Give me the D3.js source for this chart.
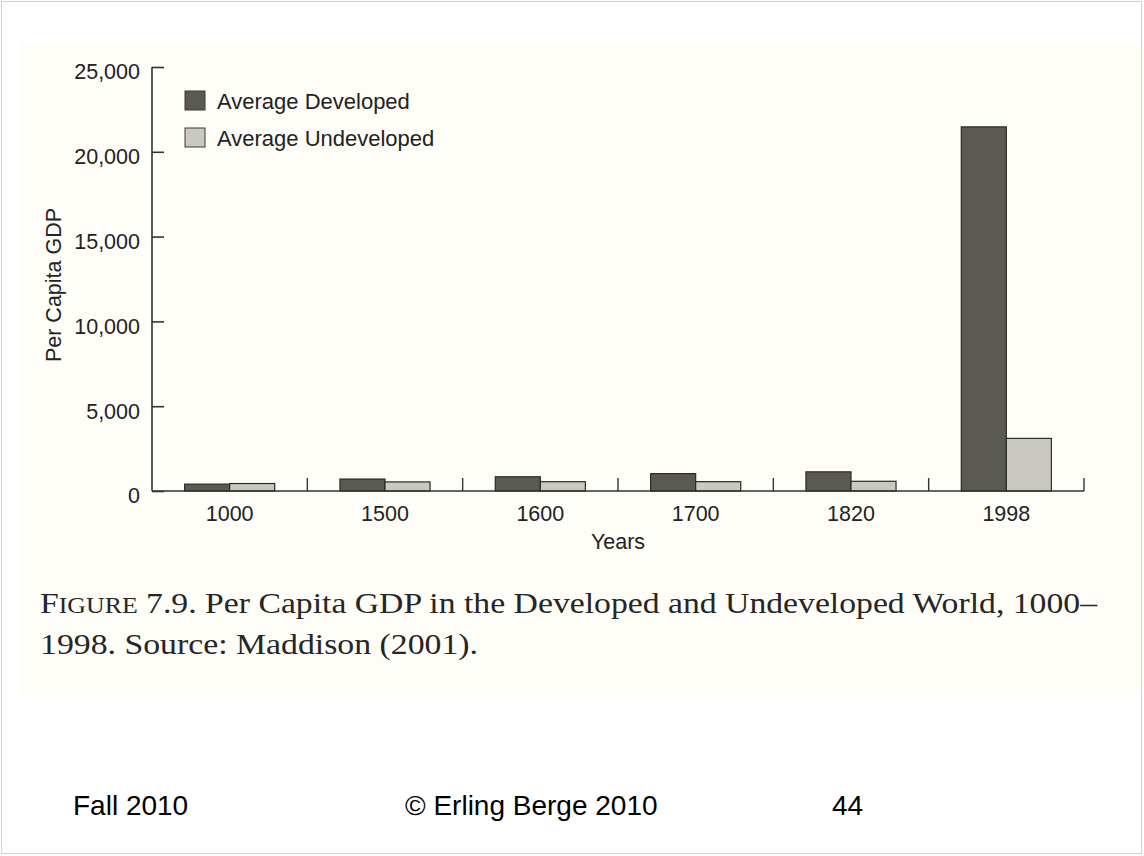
<!DOCTYPE html>
<html>
<head>
<meta charset="utf-8">
<script src="https://cdn.jsdelivr.net/npm/d3@7"></script>
<style>
  html, body { margin: 0; padding: 0; background: #ffffff; }
  svg { display: block; }
</style>
</head>
<body>
<svg id="chart" width="1144" height="856"></svg>
<script>
// ---- data ----
const years = ["1000", "1500", "1600", "1700", "1820", "1998"];
const developed = [405, 704, 839, 1024, 1130, 21470];
const undeveloped = [440, 535, 548, 551, 573, 3102];
const seriesNames = ["Average Developed", "Average Undeveloped"];
const yTicks = [0, 5000, 10000, 15000, 20000, 25000];
const captionLines = ["7.9. Per Capita GDP in the Developed and Undeveloped World, 1000–", "1998. Source: Maddison (2001)."];
const footer = ["Fall 2010", "© Erling Berge 2010", "44"];

const svg = d3.select("#chart");
const sans = "'Liberation Sans', Arial, Helvetica, sans-serif";
const serif = "'Liberation Serif', 'Times New Roman', serif";
const colors = ["#5b5a52", "#cac9c1"];
const axisColor = "#333333";

// slide frame
svg.append("rect").attr("x", 1.5).attr("y", 1.5).attr("width", 1140).attr("height", 852)
  .attr("fill", "#ffffff").attr("stroke", "#d0d0d0").attr("stroke-width", 1);
// scanned page background
svg.append("rect").attr("x", 20).attr("y", 43).attr("width", 1121).attr("height", 652)
  .attr("fill", "#fffdf8");

// scales
const x = d3.scaleBand().domain(years).range([152, 1084]).paddingInner(0).paddingOuter(0);
const xs = d3.scaleBand().domain(seriesNames)
  .range([x.bandwidth() * 0.21, x.bandwidth() * 0.79]).padding(0);
const y = d3.scaleLinear().domain([0, 25000]).range([491, 67]);

const rows = years.map((yr, i) => ({ year: yr, values: [developed[i], undeveloped[i]] }));

// bars
const g = svg.append("g");
g.selectAll("g.grp").data(rows).join("g").attr("class", "grp")
  .attr("transform", d => `translate(${x(d.year)},0)`)
  .selectAll("rect").data(d => d.values.map((v, k) => ({ v, k })))
  .join("rect")
  .attr("x", d => xs(seriesNames[d.k]))
  .attr("width", xs.bandwidth())
  .attr("y", d => y(d.v))
  .attr("height", d => y(0) - y(d.v))
  .attr("fill", d => colors[d.k])
  .attr("stroke", "#2a2a26").attr("stroke-width", 1.2);

// y axis
const yAxis = svg.append("g").attr("transform", `translate(${x.range()[0]},0)`)
  .call(d3.axisLeft(y).tickValues(yTicks).tickSize(-12).tickPadding(12)
    .tickFormat(d3.format(",")));
yAxis.select(".domain").attr("d", `M0,${y(0)}V${y(25000)}`).attr("stroke", axisColor).attr("stroke-width", 1.6);
yAxis.selectAll(".tick line").attr("stroke", axisColor).attr("stroke-width", 1.6);
yAxis.selectAll(".tick text").attr("font-family", sans).attr("font-size", 21.5)
  .attr("fill", "#222").attr("dy", "0.55em");

// x axis: labels at band centres
const xAxis = svg.append("g").attr("transform", `translate(0,${y(0)})`)
  .call(d3.axisBottom(x).tickSize(0).tickPadding(14.5));
xAxis.select(".domain").remove();
xAxis.selectAll(".tick text").attr("font-family", sans).attr("font-size", 21.5).attr("fill", "#222");
// baseline
svg.append("line").attr("x1", x.range()[0]).attr("x2", x.range()[1])
  .attr("y1", y(0)).attr("y2", y(0)).attr("stroke", axisColor).attr("stroke-width", 1.6);
// separator ticks at band boundaries
svg.append("g").selectAll("line").data(years.slice(1).concat(["end"]))
  .join("line")
  .attr("x1", d => d === "end" ? x.range()[1] : x(d))
  .attr("x2", d => d === "end" ? x.range()[1] : x(d))
  .attr("y1", y(0)).attr("y2", y(0) - 13)
  .attr("stroke", axisColor).attr("stroke-width", 1.4);

// axis titles
svg.append("text").attr("x", (x.range()[0] + x.range()[1]) / 2).attr("y", 549)
  .attr("text-anchor", "middle").attr("font-family", sans).attr("font-size", 21.5)
  .attr("fill", "#222").text("Years");
svg.append("text").attr("transform", `translate(61,${(y(0) + y(25000)) / 2 + 6}) rotate(-90)`)
  .attr("text-anchor", "middle").attr("font-family", sans).attr("font-size", 21.5)
  .attr("fill", "#222").text("Per Capita GDP");

// legend
const leg = svg.append("g");
seriesNames.forEach((name, i) => {
  const ly = 91 + i * 37;
  leg.append("rect").attr("x", 185).attr("y", ly).attr("width", 20).attr("height", 19)
    .attr("fill", colors[i]).attr("stroke", "#3a3a36").attr("stroke-width", 1);
  leg.append("text").attr("x", 217).attr("y", ly + 18).attr("font-family", sans)
    .attr("font-size", 22).attr("fill", "#222").text(name);
});

// caption (serif, small caps "FIGURE")
const cap1 = svg.append("text").attr("x", 40).attr("y", 613).attr("font-family", serif)
  .attr("font-size", 30).attr("fill", "#262626");
cap1.append("tspan").text("F");
cap1.append("tspan").attr("font-size", 23).text("IGURE");
cap1.append("tspan").text(" " + captionLines[0]);
cap1.attr("textLength", 1057).attr("lengthAdjust", "spacingAndGlyphs");
svg.append("text").attr("x", 40).attr("y", 654).attr("font-family", serif)
  .attr("font-size", 30).attr("fill", "#262626")
  .attr("textLength", 438).attr("lengthAdjust", "spacingAndGlyphs")
  .text(captionLines[1]);

// footer
const fx = [73, 405, 832];
footer.forEach((t, i) => {
  svg.append("text").attr("x", fx[i]).attr("y", 815).attr("font-family", sans)
    .attr("font-size", 28).attr("fill", "#000").text(t);
});
</script>
</body>
</html>
